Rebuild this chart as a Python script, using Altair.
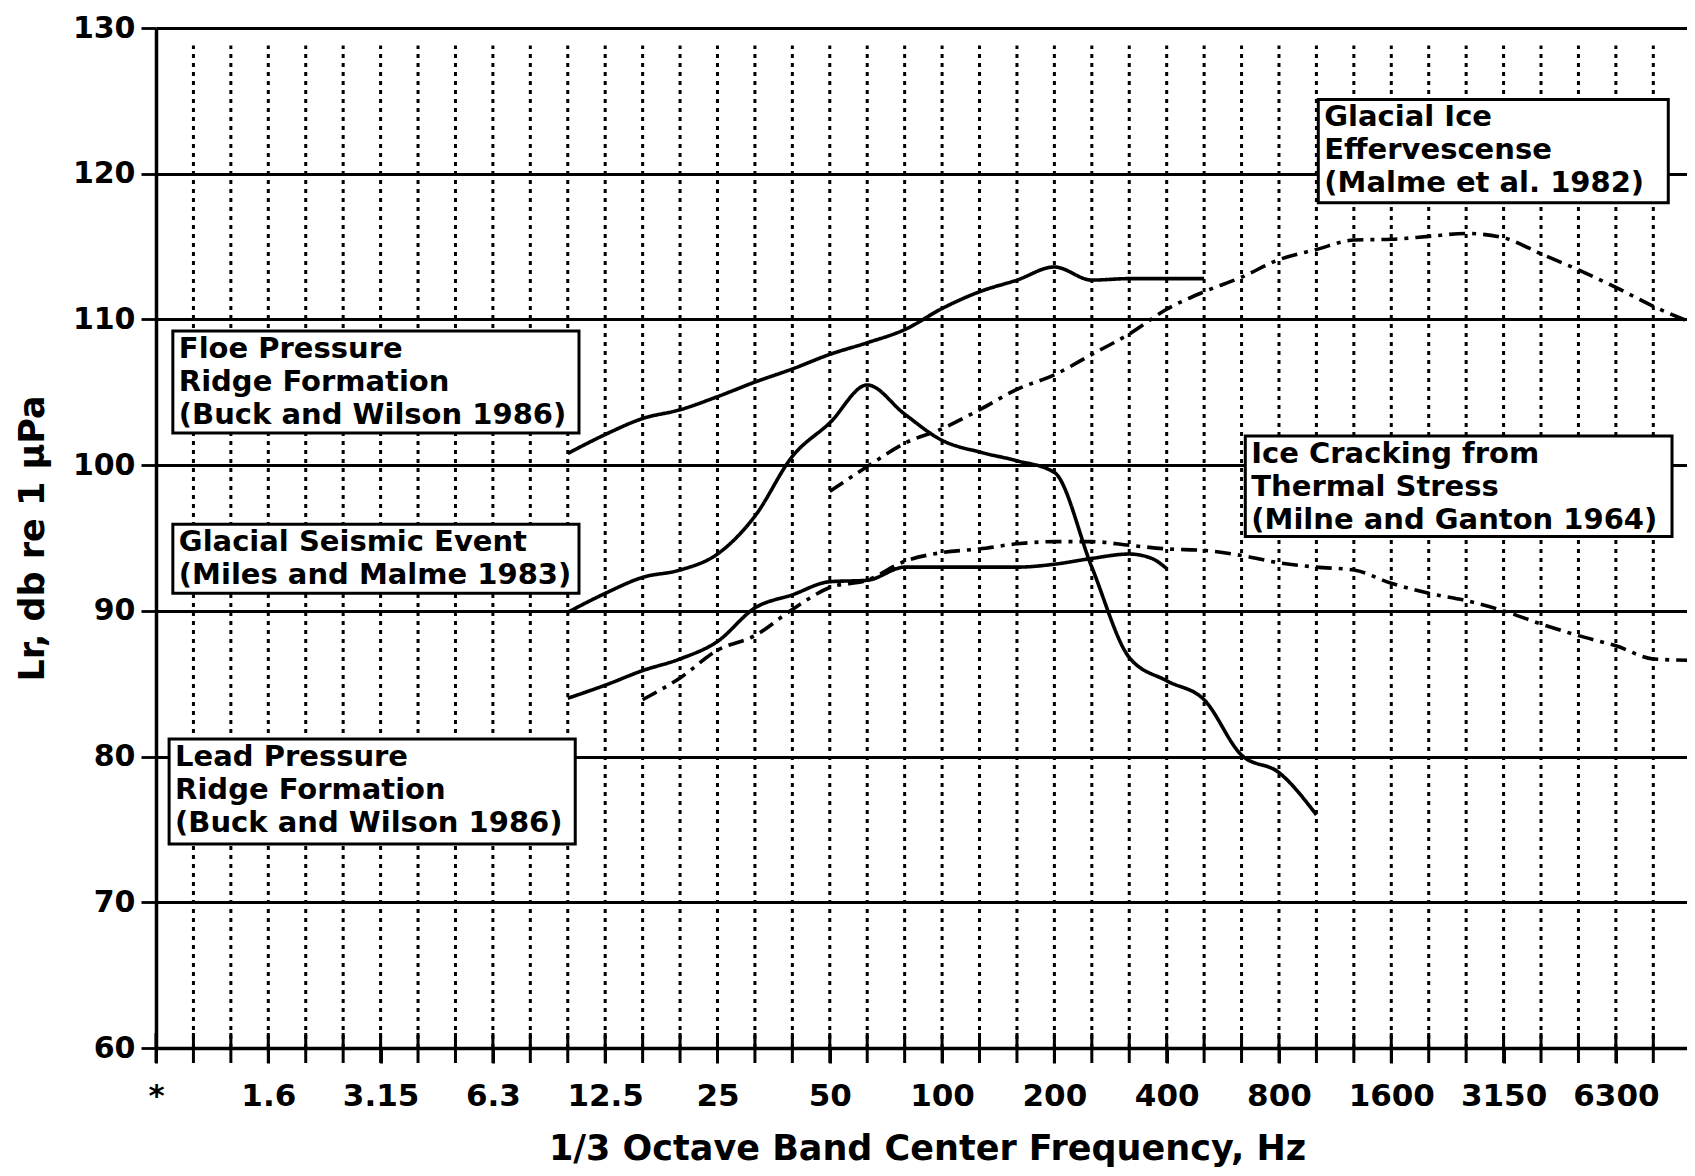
import json
import altair as alt
import pandas as pd

# ---------------- data ----------------
band_index = list(range(0, 42))              # 1/3 octave band index (0 = 0.8 Hz)
label_index = list(range(0, 40, 3))
label_text = ["*", "1.6", "3.15", "6.3", "12.5", "25", "50", "100", "200",
              "400", "800", "1600", "3150", "6300"]
y_levels = [60, 70, 80, 90, 100, 110, 120, 130]

floe_x = [11, 12, 13, 14, 15, 16, 17, 18, 19, 20, 21, 22, 23, 24, 25, 26, 27, 28]
floe_y = [100.8, 102.1, 103.2, 103.8, 104.7, 105.7, 106.6, 107.6, 108.4, 109.3,
          110.75, 111.9, 112.7, 113.6, 112.7, 112.8, 112.8, 112.8]

seismic_x = [11, 12, 13, 14, 15, 16, 17, 18, 19, 20, 21, 22, 23, 24, 25, 26, 27,
             28, 29, 30, 31]
seismic_y = [89.9, 91.2, 92.3, 92.8, 93.9, 96.5, 100.6, 102.9, 105.5, 103.5,
             101.7, 100.9, 100.3, 99.5, 93.0, 86.8, 85.2, 83.9, 80.1, 78.9, 76.0]

lead_x = [11, 12, 13, 14, 15, 16, 17, 18, 19, 20, 21, 22, 23, 24, 25, 26, 26.6, 27]
lead_y = [84.0, 84.9, 85.9, 86.7, 87.9, 90.2, 91.1, 92.0, 92.1, 93.0, 93.0, 93.0,
          93.0, 93.2, 93.6, 93.9, 93.6, 92.9]

crack_x = [13, 14, 15, 16, 17, 18, 19, 20, 21, 22, 23, 24, 25, 26, 27, 28, 29, 30,
           31, 32, 33, 34, 35, 36, 37, 38, 39, 40, 41]
crack_y = [83.9, 85.4, 87.3, 88.3, 90.1, 91.6, 92.1, 93.4, 94.0, 94.25, 94.6, 94.75,
           94.75, 94.5, 94.25, 94.15, 93.8, 93.3, 93.0, 92.8, 91.9, 91.2, 90.7,
           90.0, 89.1, 88.3, 87.6, 86.7, 86.6]

eff_x = [18, 19, 20, 21, 22, 23, 24, 25, 26, 27, 28, 29, 30, 31, 32, 33, 34, 35,
         36, 37, 38, 39, 40, 41]
eff_y = [98.2, 99.9, 101.5, 102.5, 103.8, 105.2, 106.2, 107.6, 109.0, 110.7, 111.9,
         112.9, 114.1, 114.8, 115.45, 115.5, 115.7, 115.9, 115.6, 114.5, 113.4,
         112.2, 110.9, 109.8]

series = [
    ("Floe Pressure Ridge Formation", "solid", floe_x, floe_y),
    ("Glacial Seismic Event", "solid", seismic_x, seismic_y),
    ("Lead Pressure Ridge Formation", "solid", lead_x, lead_y),
    ("Ice Cracking from Thermal Stress", "dashdot", crack_x, crack_y),
    ("Glacial Ice Effervescense", "dashdot", eff_x, eff_y),
]

# annotation boxes (band index / dB)
box_text = [
    "Floe Pressure\nRidge Formation\n(Buck and Wilson 1986)",
    "Glacial Seismic Event\n(Miles and Malme 1983)",
    "Lead Pressure\nRidge Formation\n(Buck and Wilson 1986)",
    "Glacial Ice\nEffervescense\n(Malme et al. 1982)",
    "Ice Cracking from\nThermal Stress\n(Milne and Ganton 1964)",
]
box_x0 = [0.45, 0.45, 0.35, 31.05, 29.1]
box_x1 = [11.3, 11.3, 11.2, 40.4, 40.5]
box_top = [109.2, 95.95, 81.2, 125.1, 102.0]
box_bottom = [102.2, 91.2, 74.0, 118.0, 95.1]

# ---------------- frames ----------------
curve_df = pd.concat([
    pd.DataFrame({"band": xs, "level": ys, "series": name, "style": sty})
    for name, sty, xs, ys in series
], ignore_index=True)

bands_df = pd.DataFrame({"band": band_index[1:], "lo": 60.0, "hi": 128.8})
ticks_df = pd.DataFrame({"band": band_index, "level": 60.0})
box_df = pd.DataFrame({"x0": box_x0, "x1": box_x1, "top": box_top,
                       "bottom": box_bottom, "text": box_text})

label_lookup = [""] * 42
for i, t in zip(label_index, label_text):
    label_lookup[i] = t

FONT = "DejaVu Sans"
X_MAX = 40.9

xscale = alt.Scale(domain=[0, X_MAX], nice=False, zero=False)
yscale = alt.Scale(domain=[60, 130], nice=False, zero=False)

x_axis = alt.Axis(
    values=label_index,
    labelExpr=json.dumps(label_lookup) + "[round(datum.value)]",
    title="1/3 Octave Band Center Frequency, Hz",
    grid=False, tickSize=15, tickWidth=3, tickColor="black",
    domainColor="black", domainWidth=3.5,
    labelFont=FONT, labelFontSize=31, labelFontWeight="bold", labelColor="black",
    labelPadding=18, labelFlush=False, labelOverlap=False,
    titleFont=FONT, titleFontSize=35, titleFontWeight="bold", titleColor="black",
    titleX=771, titleY=100, titleAlign="center", titleBaseline="middle",
)
y_axis = alt.Axis(
    values=y_levels,
    title="Lr, db re 1 \u03bcPa",
    grid=True, gridColor="black", gridWidth=2.8, gridOpacity=1,
    tickSize=15, tickWidth=2.8, tickColor="black",
    domainColor="black", domainWidth=3.5,
    labelFont=FONT, labelFontSize=30, labelFontWeight="bold", labelColor="black",
    labelPadding=6,
    titleFont=FONT, titleFontSize=35, titleFontWeight="bold", titleColor="black",
    titleX=-124, titleY=510, titleAngle=270, titleAlign="center",
    titleBaseline="middle",
)

vgrid = alt.Chart(bands_df).mark_rule(
    color="black", strokeWidth=3, strokeDash=[4, 5]
).encode(
    x=alt.X("band:Q", scale=xscale, axis=x_axis),
    y=alt.Y("lo:Q", scale=yscale, axis=y_axis),
    y2="hi:Q",
)

cross_ticks = alt.Chart(ticks_df).mark_tick(
    orient="vertical", size=30, thickness=3, color="black", opacity=1
).encode(
    x=alt.X("band:Q", scale=xscale),
    y=alt.Y("level:Q", scale=yscale),
)

boxes = alt.Chart(box_df).mark_rect(
    fill="white", stroke="black", strokeWidth=3
).encode(
    x=alt.X("x0:Q", scale=xscale), x2="x1:Q",
    y=alt.Y("top:Q", scale=yscale), y2="bottom:Q",
)

box_labels = alt.Chart(box_df).mark_text(
    align="left", baseline="top", lineBreak="\n", font=FONT, fontSize=29,
    fontWeight="bold", lineHeight=33, dx=6, dy=4, color="black"
).encode(
    x=alt.X("x0:Q", scale=xscale),
    y=alt.Y("top:Q", scale=yscale),
    text="text:N",
)

curves = alt.Chart(curve_df).mark_line(
    color="black", strokeWidth=3.6, interpolate="monotone", clip=True
).encode(
    x=alt.X("band:Q", scale=xscale),
    y=alt.Y("level:Q", scale=yscale),
    detail="series:N",
    strokeDash=alt.StrokeDash(
        "style:N",
        scale=alt.Scale(domain=["solid", "dashdot"], range=[[1, 0], [16, 7, 4, 7]]),
        legend=None,
    ),
)

chart = alt.layer(vgrid, cross_ticks, boxes, box_labels, curves).properties(
    width=1531, height=1020,
    autosize=alt.AutoSizeParams(type="none"),
    padding={"left": 148, "top": 20, "right": 0, "bottom": 120},
    background="white",
).configure_view(stroke="transparent")

chart.save("out.html", embed_options={"renderer": "svg", "actions": False})
